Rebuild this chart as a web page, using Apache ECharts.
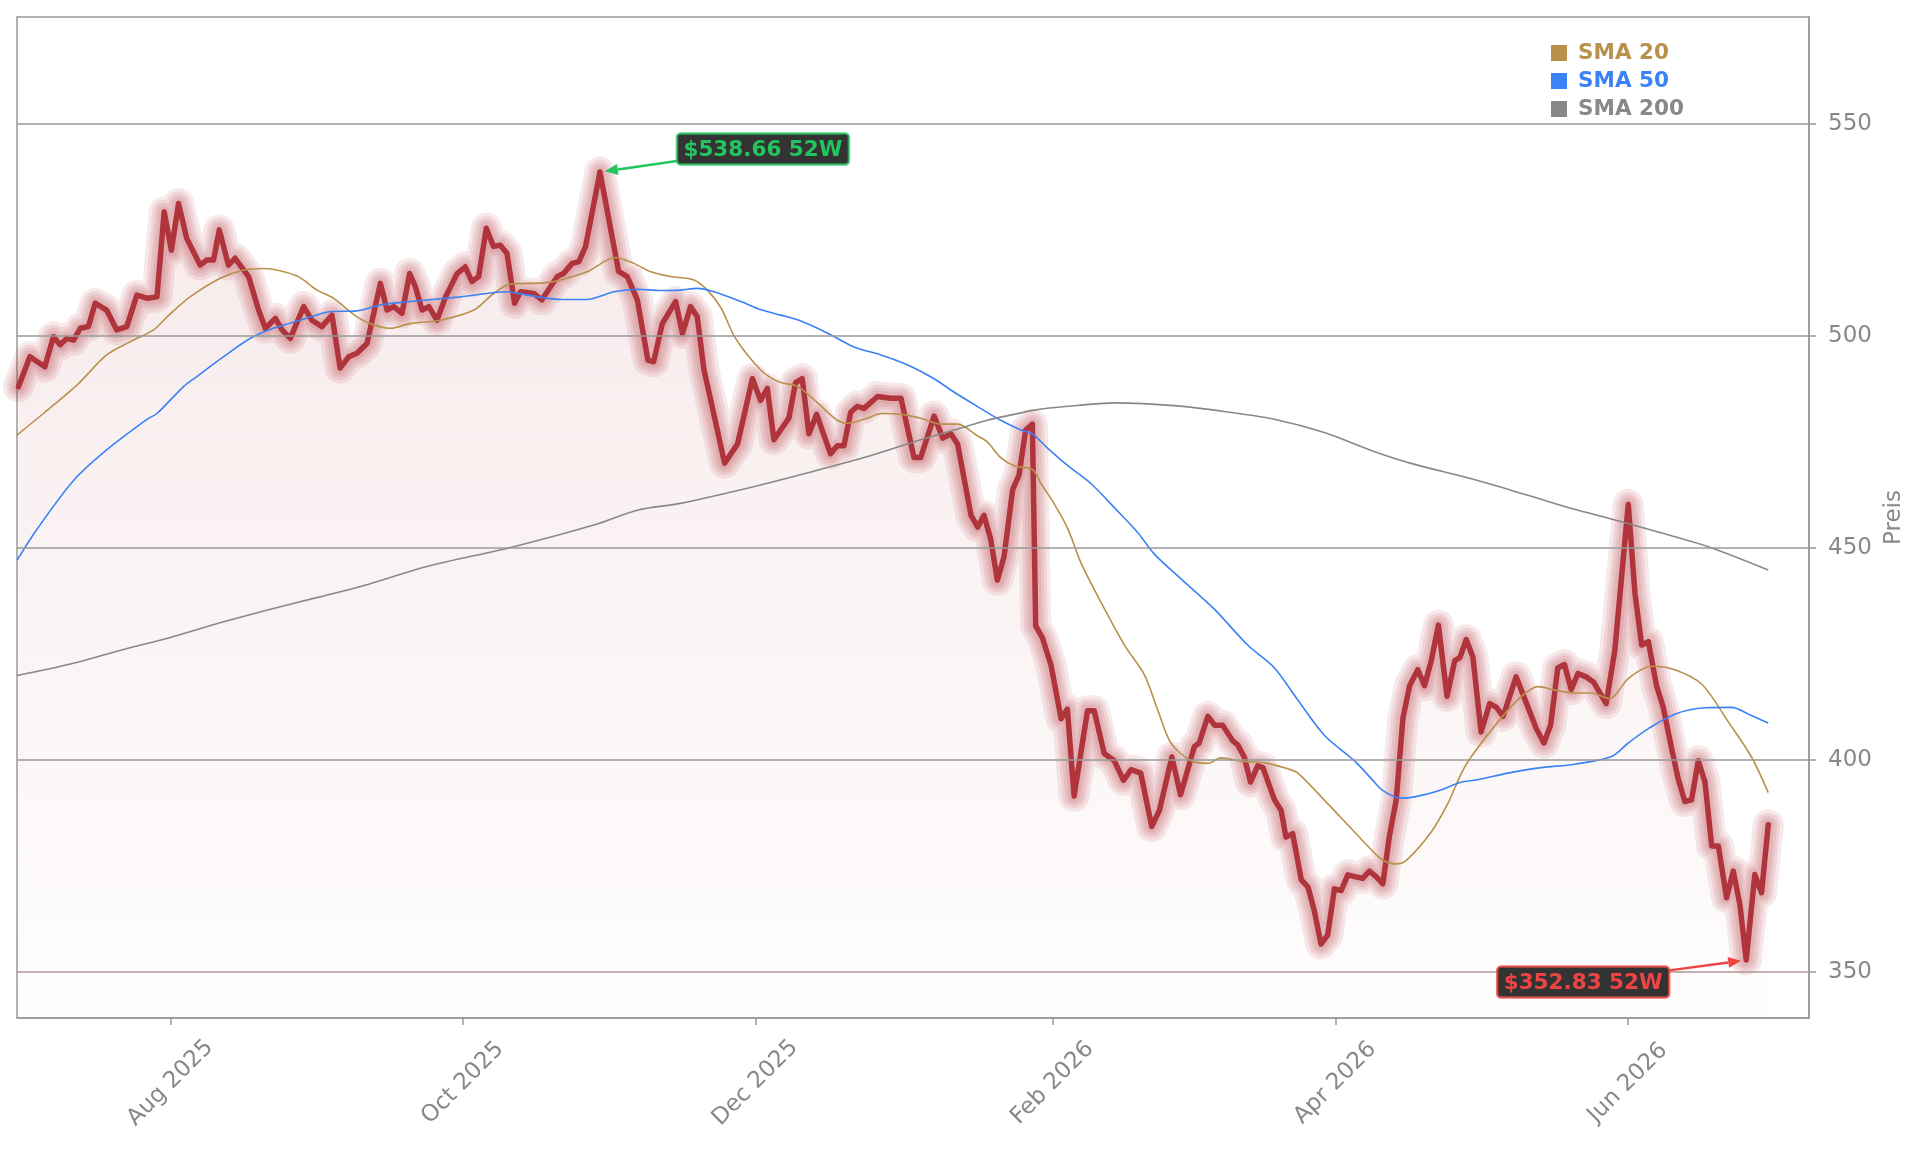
<!DOCTYPE html>
<html>
<head>
<meta charset="utf-8">
<title>Preis mit SMA 20 / 50 / 200</title>
<script src="https://cdn.jsdelivr.net/npm/echarts@6.0.0/dist/echarts.min.js"></script>
<style>
  html, body { margin: 0; padding: 0; background: #fff; }
  #chart { width: 1921px; height: 1151px; }
</style>
</head>
<body>
<div id="chart"></div>
<script>
// x values are day offsets counted from startDate
const startDate = '2025-06-30';
const xRangeDays = [0, 373.8];

const tickDates = ['2025-08-01', '2025-10-01', '2025-12-01', '2026-02-01', '2026-04-01', '2026-06-01'];
const tickLabels = ['Aug 2025', 'Oct 2025', 'Dec 2025', 'Feb 2026', 'Apr 2026', 'Jun 2026'];
const priceTicks = [350, 400, 450, 500, 550];
const priceRange = [339.15, 575.2];

// [day, close]
const pricePoints = [
  [0.3, 488.0], [2.7, 495.1], [5.8, 492.7], [7.6, 499.8], [9.0, 497.9], [10.4, 499.4],
  [11.8, 499.0], [13.2, 501.8], [14.9, 502.2], [16.3, 507.7], [18.7, 506.1], [20.8, 501.4],
  [22.9, 502.2], [25.0, 509.6], [27.1, 508.9], [29.2, 509.2], [30.7, 529.3], [32.2, 520.2],
  [33.7, 531.2], [35.4, 523.0], [38.2, 516.7], [39.6, 517.9], [41.0, 517.9], [42.2, 525.0],
  [44.1, 516.7], [45.5, 518.3], [48.3, 514.0], [50.4, 506.1], [51.8, 501.8], [53.9, 504.1],
  [55.3, 501.4], [57.0, 499.4], [59.8, 506.9], [61.5, 503.7], [63.6, 502.2], [65.7, 504.9],
  [67.4, 492.4], [69.2, 495.1], [70.9, 495.9], [73.0, 498.2], [75.8, 512.4], [77.2, 506.1],
  [78.6, 506.9], [80.3, 505.3], [81.9, 514.7], [83.1, 511.6], [84.5, 506.1], [85.9, 506.9],
  [87.6, 503.7], [89.4, 509.2], [91.8, 514.7], [93.5, 516.3], [94.9, 512.8], [96.3, 514.0],
  [97.9, 525.4], [99.4, 521.1], [100.8, 521.4], [102.2, 519.5], [103.8, 507.7], [105.0, 510.4],
  [107.8, 510.0], [109.5, 508.5], [112.7, 514.0], [114.0, 514.7], [115.8, 517.1], [117.2, 517.5],
  [118.6, 521.1], [121.6, 538.66], [125.5, 515.2], [127.3, 514.0], [129.4, 508.5], [131.6, 494.3],
  [132.8, 493.9], [134.6, 502.9], [137.4, 508.1], [138.8, 500.6], [140.5, 506.9], [141.9, 504.5],
  [143.3, 492.0], [144.7, 484.9], [147.6, 470.0], [150.3, 474.5], [153.4, 489.9], [155.1, 484.8],
  [156.5, 487.6], [157.9, 475.5], [161.0, 480.6], [162.4, 489.0], [163.8, 489.9], [165.2, 476.9],
  [166.8, 481.5], [169.7, 472.2], [171.1, 474.1], [172.5, 474.1], [173.9, 482.0], [175.3, 483.4],
  [176.7, 482.9], [179.5, 485.7], [182.3, 485.3], [184.4, 485.3], [187.1, 471.3], [188.5, 471.3],
  [191.3, 481.1], [193.1, 475.9], [194.8, 476.9], [196.2, 474.5], [199.0, 457.7], [200.4, 454.9],
  [201.7, 457.7], [203.1, 452.1], [204.5, 442.4], [205.9, 448.0], [207.7, 463.8], [209.0, 467.1],
  [210.4, 477.8], [211.8, 479.2], [212.5, 431.6], [213.9, 428.8], [215.7, 422.3], [217.8, 409.7],
  [219.1, 412.0], [220.5, 391.5], [223.3, 411.6], [224.7, 411.6], [226.8, 401.5], [228.9, 399.8],
  [230.8, 395.2], [232.4, 397.7], [234.4, 396.9], [236.7, 384.3], [238.3, 388.1], [240.9, 400.7],
  [242.7, 391.8], [245.6, 403.2], [246.6, 404.0], [248.4, 410.3], [249.8, 408.2], [251.5, 408.2],
  [253.6, 404.5], [254.6, 403.6], [256.0, 400.7], [257.3, 394.8], [258.8, 398.6], [259.9, 398.2],
  [262.3, 390.6], [263.7, 388.1], [264.7, 381.8], [266.1, 382.6], [267.9, 371.7], [269.3, 370.0],
  [270.6, 364.5], [272.0, 356.6], [273.4, 358.7], [274.8, 369.6], [276.2, 369.2], [277.6, 372.9],
  [279.0, 372.5], [280.7, 372.1], [282.1, 373.8], [283.5, 372.5], [284.9, 370.8], [286.3, 382.2],
  [287.7, 390.6], [289.1, 409.9], [290.5, 417.5], [292.2, 421.3], [293.6, 417.5], [295.0, 423.4],
  [296.5, 431.8], [298.3, 415.0], [299.9, 423.4], [301.0, 424.2], [302.3, 428.4], [303.7, 424.2],
  [305.4, 406.6], [307.2, 413.3], [308.6, 412.4], [310.0, 410.3], [312.7, 419.6], [315.2, 412.4],
  [316.9, 407.4], [318.5, 404.0], [319.9, 408.2], [321.4, 421.7], [322.8, 422.5], [324.2, 416.6],
  [325.6, 420.4], [327.3, 419.6], [328.9, 418.3], [331.5, 413.3], [333.3, 425.9], [336.1, 460.3],
  [337.5, 439.3], [338.9, 427.1], [340.3, 427.9], [342.0, 417.5], [343.4, 412.4], [345.2, 402.4],
  [346.5, 395.6], [347.9, 390.2], [349.3, 390.6], [350.7, 399.8], [352.1, 394.8], [353.5, 379.7],
  [354.9, 379.7], [356.6, 367.5], [358.0, 373.8], [359.4, 365.8], [360.7, 352.83], [362.5, 373.0],
  [363.9, 368.7], [365.3, 384.7]
];

const sma20Points = [
  [0, 476.6], [5.5, 481.7], [12.5, 488.4], [18.7, 495.5], [23.6, 498.6], [28.5, 501.4],
  [31.3, 504.5], [36.1, 509.2], [42.4, 513.6], [47.2, 515.5], [51.4, 515.9], [58.4, 514.1],
  [62.6, 510.8], [66.0, 508.9], [70.9, 504.5], [74.4, 502.6], [77.9, 501.8], [82.0, 502.9],
  [88.3, 503.7], [95.3, 506.1], [99.4, 510.0], [102.9, 512.2], [109.9, 512.5], [113.4, 513.2],
  [118.9, 515.1], [124.8, 518.5], [128.7, 517.1], [132.2, 515.1], [136.3, 514.0], [141.2, 513.2],
  [144.0, 510.8], [146.8, 506.7], [149.5, 500.2], [152.4, 495.5], [155.8, 491.3], [159.3, 489.0],
  [162.8, 488.1], [166.9, 484.3], [171.1, 480.1], [173.2, 479.4], [177.4, 480.6], [180.2, 481.7],
  [184.4, 481.5], [188.5, 480.6], [192.7, 479.2], [196.2, 479.2], [200.4, 476.4], [202.4, 475.0],
  [205.2, 471.3], [208.0, 469.4], [211.8, 468.5], [213.6, 465.2], [216.3, 460.5], [219.2, 454.5],
  [221.9, 446.6], [226.1, 437.2], [231.0, 427.1], [235.2, 420.0], [238.0, 411.6], [240.7, 404.0],
  [244.9, 399.8], [248.4, 399.2], [251.2, 400.5], [255.4, 399.7], [260.9, 399.2], [265.1, 397.9],
  [267.2, 396.9], [273.4, 389.7], [279.7, 382.2], [284.5, 376.7], [287.7, 375.5], [289.8, 376.3],
  [295.0, 383.0], [298.5, 389.8], [301.3, 396.9], [303.3, 400.7], [309.0, 409.1], [313.8, 415.0],
  [317.3, 417.3], [320.7, 416.5], [324.9, 415.8], [328.4, 415.8], [332.2, 414.5], [336.1, 419.2],
  [340.9, 422.1], [345.8, 421.3], [351.4, 417.9], [356.9, 409.1], [361.8, 400.7], [365.3, 392.3]
];

const sma50Points = [
  [0, 447.1], [4.1, 454.3], [11.8, 465.9], [18.7, 473.1], [27.1, 480.3], [29.2, 481.7],
  [34.8, 488.1], [37.5, 490.4], [43.1, 495.1], [48.6, 499.4], [53.5, 501.8], [59.1, 503.7],
  [65.3, 505.7], [70.9, 505.9], [75.8, 507.3], [82.0, 508.1], [92.5, 509.2], [102.2, 510.4],
  [105.0, 509.9], [113.4, 508.6], [118.9, 508.6], [124.5, 510.4], [129.4, 511.0], [134.2, 510.7],
  [138.4, 510.8], [141.9, 511.2], [145.4, 510.4], [151.0, 508.1], [155.1, 506.2], [159.3, 504.9],
  [163.5, 503.5], [169.0, 500.7], [174.6, 497.4], [180.2, 495.5], [185.7, 493.2], [191.3, 489.9],
  [195.5, 486.7], [201.0, 482.9], [205.2, 480.1], [209.4, 477.8], [211.8, 476.9], [214.9, 473.6],
  [219.2, 469.4], [224.0, 465.2], [228.9, 459.5], [233.8, 453.6], [237.2, 448.6], [242.8, 442.7],
  [249.8, 435.5], [256.7, 427.1], [262.3, 421.7], [267.2, 414.1], [272.8, 405.7], [279.0, 399.8],
  [282.5, 395.6], [285.0, 392.7], [288.8, 391.0], [291.5, 391.3], [296.4, 392.7], [301.3, 394.8],
  [304.0, 395.2], [311.0, 396.9], [317.9, 398.2], [324.9, 399.0], [332.6, 400.8], [336.1, 404.0],
  [340.3, 407.4], [345.8, 410.8], [352.1, 412.3], [357.7, 412.4], [361.2, 410.8], [365.3, 408.7]
];

const sma200Points = [
  [0, 419.9], [11.8, 422.8], [22.0, 426.0], [32.0, 428.9], [42.5, 432.4], [52.7, 435.5],
  [62.9, 438.4], [73.2, 441.4], [85.5, 445.6], [103.6, 450.3], [120.3, 455.4], [129.4, 458.9],
  [138.4, 460.5], [151.0, 463.7], [164.2, 467.5], [176.7, 471.3], [188.5, 475.5], [195.5, 477.8],
  [202.4, 480.1], [208.0, 481.5], [212.2, 482.5], [219.2, 483.4], [229.0, 484.2], [242.0, 483.5],
  [252.2, 482.1], [262.5, 480.3], [272.7, 477.2], [282.9, 472.8], [290.6, 470.0], [303.4, 466.3],
  [315.2, 462.4], [324.9, 459.1], [332.0, 457.0], [341.6, 454.0], [352.8, 450.3], [365.3, 444.8]
];

const FONT = '"DejaVu Sans", Verdana, sans-serif';
const DAY = 86400000;
const t0 = Date.parse(startDate);
const toTime = (d) => t0 + d * DAY;
const toSeries = (points) => points.map((p) => [toTime(p[0]), p[1]]);
const tickTimes = tickDates.map((s) => Date.parse(s));

const priceColor = '#b0343c';
const smaLines = [
  { name: 'SMA 20', color: '#b8914b', points: sma20Points },
  { name: 'SMA 50', color: '#3b82f6', points: sma50Points },
  { name: 'SMA 200', color: '#888888', points: sma200Points }
];
const glowWidths = [31, 24, 18, 12];

const chart = echarts.init(document.getElementById('chart'));
const priceData = toSeries(pricePoints);

const series = [];

// fill under the close, also carries the horizontal grid lines
series.push({
  name: 'fill',
  type: 'line',
  data: priceData,
  showSymbol: false,
  silent: true,
  lineStyle: { width: 0 },
  areaStyle: {
    color: new echarts.graphic.LinearGradient(0, 0, 0, 1, [
      { offset: 0, color: 'rgba(178,52,60,0.15)' },
      { offset: 1, color: 'rgba(178,52,60,0.015)' }
    ])
  },
  markLine: {
    silent: true,
    symbol: ['none', 'none'],
    label: { show: false },
    animation: false,
    lineStyle: { color: '#999', width: 1.5, type: 'solid' },
    data: priceTicks.map((v, i) => ({
      yAxis: v,
      lineStyle: i === 0 ? { color: '#b39696', width: 1.5, type: 'solid' } : undefined
    }))
  },
  z: 1
});

glowWidths.forEach((w, i) => {
  series.push({
    name: 'glow' + i,
    type: 'line',
    data: priceData,
    showSymbol: false,
    silent: true,
    lineStyle: { width: w, color: 'rgba(178,52,60,0.11)', cap: 'round', join: 'round' },
    z: 2
  });
});

series.push({
  name: 'Kurs',
  type: 'line',
  data: priceData,
  showSymbol: false,
  lineStyle: { width: 5.5, color: priceColor, cap: 'round', join: 'round' },
  z: 3
});

smaLines.forEach((s) => {
  series.push({
    name: s.name,
    type: 'line',
    data: toSeries(s.points),
    showSymbol: false,
    smooth: 0.3,
    color: s.color,
    lineStyle: { width: 1.6, color: s.color },
    z: 4
  });
});

chart.setOption({
  animation: false,
  backgroundColor: '#fff',
  textStyle: { fontFamily: FONT },
  grid: {
    left: 17, right: 112, top: 17, bottom: 133,
    show: true, borderColor: '#999', borderWidth: 1.5, backgroundColor: 'transparent'
  },
  legend: {
    orient: 'vertical',
    left: 1546,
    top: 37,
    icon: 'rect',
    itemWidth: 16,
    itemHeight: 16,
    itemGap: 6,
    selectedMode: false,
    textStyle: { fontSize: 21.5, fontWeight: 'bold', fontFamily: FONT, lineHeight: 22, padding: [0, 0, 0, 6] },
    data: smaLines.map((s) => ({ name: s.name, textStyle: { color: s.color } }))
  },
  xAxis: {
    type: 'value',
    min: toTime(xRangeDays[0]),
    max: toTime(xRangeDays[1]),
    axisLine: { show: true, lineStyle: { color: '#999', width: 1.5 } },
    axisTick: { show: true, length: 7, lineStyle: { color: '#999', width: 1.5 }, customValues: tickTimes },
    axisLabel: {
      customValues: tickTimes,
      formatter: (v) => {
        const i = tickTimes.indexOf(v);
        return i >= 0 ? tickLabels[i] : '';
      },
      rotate: 45,
      align: 'center',
      verticalAlign: 'middle',
      margin: 65,
      color: '#888',
      fontSize: 23,
      fontFamily: FONT
    },
    splitLine: { show: false }
  },
  yAxis: {
    type: 'value',
    position: 'right',
    min: priceRange[0],
    max: priceRange[1],
    name: 'Preis',
    nameLocation: 'middle',
    nameRotate: 90,
    nameGap: 74,
    nameTextStyle: { color: '#888', fontSize: 23, fontFamily: FONT },
    axisLine: { show: true, lineStyle: { color: '#999', width: 1.5 } },
    axisTick: { show: true, length: 7, lineStyle: { color: '#999', width: 1.5 }, customValues: priceTicks },
    axisLabel: { customValues: priceTicks, margin: 19, color: '#888', fontSize: 23, fontFamily: FONT },
    splitLine: { show: false }
  },
  series: series
});

// 52-week high / low callouts, placed in pixel space next to their points
function callout(point, text, color, dx, dy) {
  const p = chart.convertToPixel({ gridIndex: 0 }, [toTime(point[0]), point[1]]);
  const c = [p[0] + dx, p[1] + dy];
  const w = 172, h = 31;
  const vx = p[0] - c[0], vy = p[1] - c[1];
  const t = Math.min((w / 2) / Math.abs(vx), (h / 2) / Math.abs(vy));
  const start = [c[0] + vx * t, c[1] + vy * t];
  const len = Math.hypot(vx, vy);
  const ux = vx / len, uy = vy / len;
  const tip = [p[0] - ux * 5, p[1] - uy * 5];
  const base = [tip[0] - ux * 13, tip[1] - uy * 13];
  const nx = -uy, ny = ux;
  return [
    {
      type: 'line', silent: true, z: 100,
      shape: { x1: start[0], y1: start[1], x2: base[0], y2: base[1] },
      style: { stroke: color, lineWidth: 2.5 }
    },
    {
      type: 'polygon', silent: true, z: 100,
      shape: { points: [tip, [base[0] + nx * 5.5, base[1] + ny * 5.5], [base[0] - nx * 5.5, base[1] - ny * 5.5]] },
      style: { fill: color }
    },
    {
      type: 'rect', silent: true, z: 100,
      shape: { x: c[0] - w / 2, y: c[1] - h / 2, width: w, height: h, r: 4 },
      style: { fill: '#333333', stroke: color, lineWidth: 2.5, strokeOpacity: 0.75 }
    },
    {
      type: 'text', silent: true, z: 101,
      x: c[0], y: c[1] + 1,
      style: { text: text, fill: color, font: 'bold 21.5px ' + FONT, align: 'center', verticalAlign: 'middle' }
    }
  ];
}

let hi = pricePoints[0], lo = pricePoints[0];
pricePoints.forEach((p) => {
  if (p[1] > hi[1]) hi = p;
  if (p[1] < lo[1]) lo = p;
});

chart.setOption({
  graphic: [].concat(
    callout(hi, '$' + hi[1].toFixed(2) + ' 52W', '#22c55e', 163, -23),
    callout(lo, '$' + lo[1].toFixed(2) + ' 52W', '#ef4444', -163, 22)
  )
});

window.addEventListener('resize', () => chart.resize());
</script>
</body>
</html>
